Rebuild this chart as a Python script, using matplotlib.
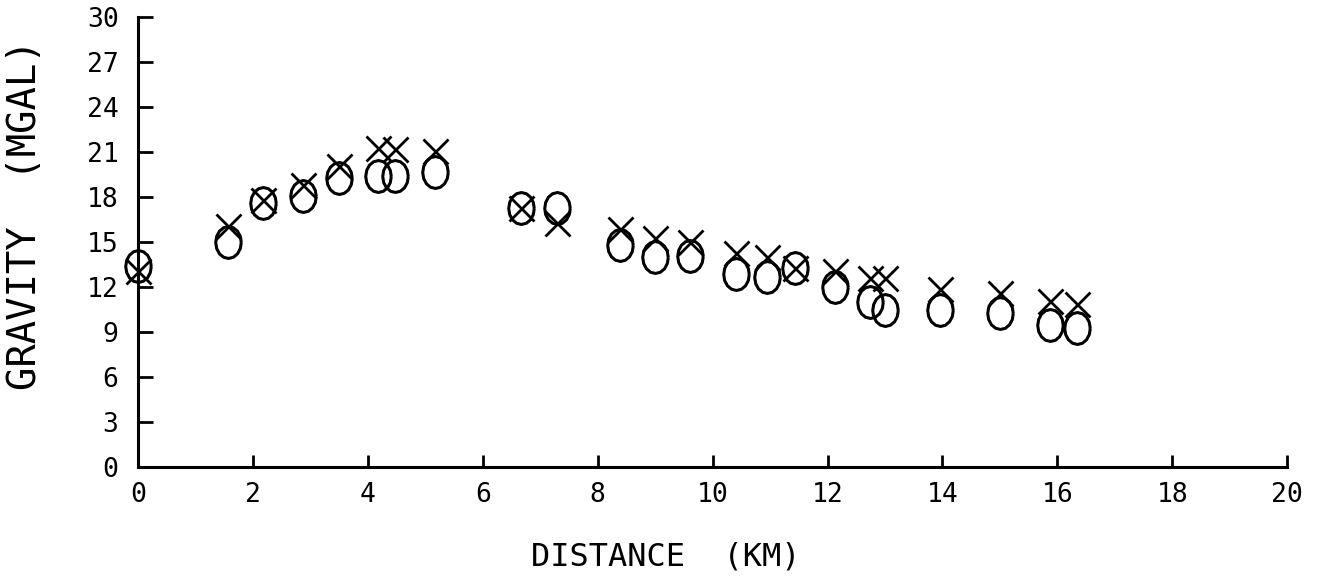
"""Gravity profile: observed (circles) and computed (crosses) values."""

import numpy as np
import matplotlib
matplotlib.use("Agg")
import matplotlib.pyplot as plt
from matplotlib.path import Path

# distance along profile (km)
distance = [0.0, 1.57, 2.18, 2.87, 3.5, 4.18, 4.47, 5.17, 6.67, 7.3,
            8.39, 9.0, 9.6, 10.4, 10.95, 11.43, 12.13, 12.74, 13.0,
            13.95, 15.0, 15.87, 16.34]
# observed gravity (mgal)
observed = [13.4, 15.0, 17.6, 18.1, 19.3, 19.4, 19.4, 19.7, 17.3, 17.3,
            14.8, 14.0, 14.1, 12.9, 12.7, 13.3, 12.0, 11.0, 10.5,
            10.5, 10.3, 9.5, 9.3]
# computed gravity (mgal)
computed = [13.1, 16.1, 17.8, 18.8, 20.1, 21.3, 21.2, 21.1, 17.3, 16.3,
            15.9, 15.3, 15.0, 14.3, 14.0, 13.3, 13.1, 12.6, 12.6,
            11.9, 11.6, 11.1, 10.9]

x_ticks = list(range(0, 21, 2))
y_ticks = list(range(0, 31, 3))

plt.rcParams['font.family'] = ['DejaVu Sans Mono']

# tall oval marker, like the plotter circles
t = np.linspace(0, 2 * np.pi, 17)
oval = Path(np.column_stack([0.8 * np.cos(t), np.sin(t)]))

fig = plt.figure(figsize=(13.44, 5.79), dpi=100)
ax = fig.add_axes([0.1027, 0.1934, 0.855, 0.777])

ax.plot(distance, observed, linestyle='none', marker=oval, markersize=23,
        markerfacecolor='none', markeredgecolor='black',
        markeredgewidth=2.2, clip_on=False)
ax.plot(distance, computed, linestyle='none', marker='x', markersize=18,
        markeredgecolor='black', markeredgewidth=2.0, clip_on=False)

ax.set_xlim(0, 20)
ax.set_ylim(0, 30)
ax.set_xticks(x_ticks)
ax.set_yticks(y_ticks)
ax.set_xticklabels([str(v) for v in x_ticks])
ax.set_yticklabels([str(v) for v in y_ticks])

for side in ['top', 'right']:
    ax.spines[side].set_visible(False)
for side in ['left', 'bottom']:
    ax.spines[side].set_linewidth(2.2)

ax.tick_params(axis='y', direction='in', length=11, width=2,
               pad=14, labelsize=19)
ax.tick_params(axis='x', direction='in', length=9, width=2,
               pad=11, labelsize=19)

ax.set_xlabel('DISTANCE  (KM)', fontsize=23)
ax.set_ylabel('GRAVITY  (MGAL)', fontsize=28)
ax.xaxis.set_label_coords(0.459, -0.165)
ax.yaxis.set_label_coords(-0.082, 0.56)

fig.savefig('out.png', dpi=100)
